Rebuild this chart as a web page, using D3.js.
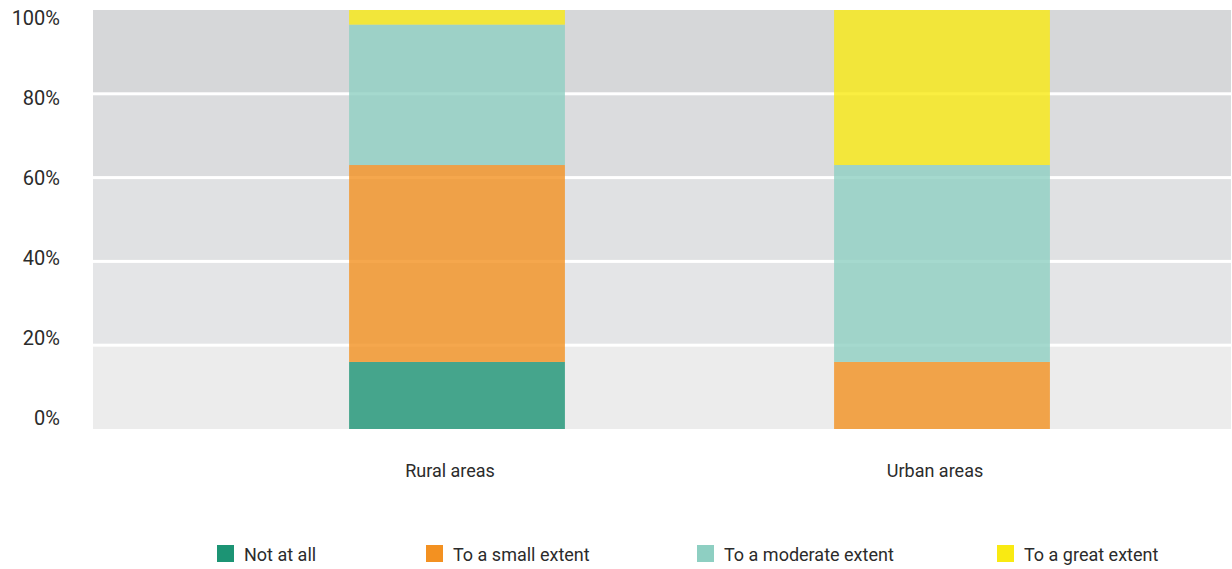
<!DOCTYPE html>
<html>
<head>
<meta charset="utf-8">
<script src="https://cdn.jsdelivr.net/npm/d3@7"></script>
<style>
  html, body { margin: 0; padding: 0; background: #fff; }
  svg { display: block; font-family: Roboto, "Noto Sans", sans-serif; }
</style>
</head>
<body>
<svg id="chart" width="1232" height="569"></svg>
<script>
// data
const categories = ["Rural areas", "Urban areas"];
const seriesNames = ["Not at all", "To a small extent", "To a moderate extent", "To a great extent"];
const notAtAll = [16, 0];
const smallExtent = [47, 16];
const moderateExtent = [33.5, 47];
const greatExtent = [3.5, 37];
const yTicks = [0, 20, 40, 60, 80, 100];

const colors = ["#1c9474", "#f39121", "#8ecfc2", "#f9ea12"];
const bandFills = ["#ececec", "#e4e5e7", "#e0e1e3", "#dbdcde", "#d6d7d9"];

const svg = d3.select("#chart");

const plotLeft = 93, plotRight = 1231;

const y = d3.scaleLinear().domain([0, 100]).range([429, 10]);
// tick labels in the original sit on a slightly tighter scale than the grid
const yLabel = d3.scaleLinear().domain([0, 100]).range([418, 17.5]);

const x = d3.scaleBand()
    .domain(categories)
    .range([214.5, 1184.5])
    .paddingInner(0.555)
    .paddingOuter(0.2775);

// background bands with white gaps as grid lines
const bands = d3.pairs(yTicks);
svg.append("g").selectAll("rect")
    .data(bands)
    .join("rect")
    .attr("x", plotLeft)
    .attr("width", plotRight - plotLeft)
    .attr("y", d => y(d[1]) + (d[1] < 100 ? 1.5 : 0))
    .attr("height", d => y(d[0]) - y(d[1]) - (d[1] < 100 ? 1.5 : 0) - (d[0] > 0 ? 1.5 : 0))
    .attr("fill", (d, i) => bandFills[i]);

// stacked bars
const table = categories.map((c, i) => ({
    cat: c,
    s0: notAtAll[i],
    s1: smallExtent[i],
    s2: moderateExtent[i],
    s3: greatExtent[i]
}));
const stack = d3.stack().keys(["s0", "s1", "s2", "s3"]);
const layers = stack(table);

svg.append("g").selectAll("g")
    .data(layers)
    .join("g")
    .attr("fill", (d, i) => colors[i])
    .attr("fill-opacity", 0.8)
    .selectAll("rect")
    .data(d => d.filter(v => v[1] - v[0] > 0))
    .join("rect")
    .attr("x", d => x(d.data.cat))
    .attr("width", x.bandwidth())
    .attr("y", d => y(d[1]))
    .attr("height", d => y(d[0]) - y(d[1]));

// y labels
svg.append("g").selectAll("text")
    .data(yTicks)
    .join("text")
    .attr("x", 60)
    .attr("y", d => yLabel(d))
    .attr("dy", "0.35em")
    .attr("text-anchor", "end")
    .attr("font-size", 20)
    .attr("fill", "#2b2b2b")
    .text(d => d + "%");

// x labels
svg.append("g").selectAll("text")
    .data(categories)
    .join("text")
    .attr("x", d => x(d) + x.bandwidth() / 2 - 7)
    .attr("y", 477)
    .attr("text-anchor", "middle")
    .attr("font-size", 18)
    .attr("fill", "#2b2b2b")
    .text(d => d);

// legend
const legendX = [217, 426, 697, 997];
const legend = svg.append("g").selectAll("g")
    .data(seriesNames)
    .join("g")
    .attr("transform", (d, i) => `translate(${legendX[i]}, 545)`);
legend.append("rect")
    .attr("width", 17)
    .attr("height", 17)
    .attr("fill", (d, i) => colors[i]);
legend.append("text")
    .attr("x", 27)
    .attr("y", 16)
    .attr("font-size", 18)
    .attr("fill", "#2b2b2b")
    .text(d => d);
</script>
</body>
</html>
